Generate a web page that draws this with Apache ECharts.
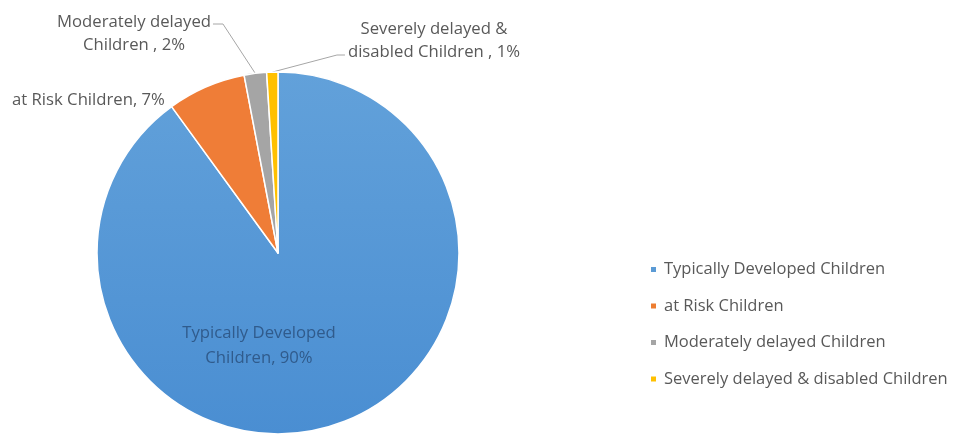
<!DOCTYPE html>
<html>
<head>
<meta charset="utf-8">
<script src="https://cdn.jsdelivr.net/npm/echarts@6/dist/echarts.min.js"></script>
<style>
  html, body { margin: 0; padding: 0; background: #ffffff; }
  #chart { width: 957px; height: 437px; }
</style>
</head>
<body>
<div id="chart"></div>
<script>
// Categories shown in the legend
const categories = [
  'Typically Developed Children',
  'at Risk Children',
  'Moderately delayed Children',
  'Severely delayed & disabled Children'
];
// Share of children in each group (%)
const shares = [90, 7, 2, 1];
// Slice label text (before the value)
const labelNames = [
  'Typically Developed\nChildren',
  'at Risk Children',
  'Moderately delayed\nChildren ',
  'Severely delayed &\ndisabled Children '
];

const colors = [
  new echarts.graphic.LinearGradient(0, 0, 0, 1, [
    { offset: 0, color: '#62a1da' },
    { offset: 1, color: '#4a8ed2' }
  ]),
  '#ef7d37',
  '#a5a5a5',
  '#ffc000'
];
const legendColors = ['#5b9bd5', '#ed7d31', '#a5a5a5', '#ffc000'];

const FONT = '"Open Sans", "Noto Sans", sans-serif';
const chart = echarts.init(document.getElementById('chart'));

const data = categories.map((name, i) => ({
  name: name,
  value: shares[i],
  itemStyle: { color: colors[i] },
  label: i === 0
    ? { position: 'inside', color: '#305b8c', lineHeight: 25 }
    : { position: 'outside', color: '#595959' },
  labelLine: { show: i >= 2 }
}));

// Where each slice label sits, and which side its leader line joins
const labelPlacement = [
  { x: 259, y: 345.5, align: 'center' },
  { x: 12, y: 100, align: 'left' },
  { x: 134, y: 33.5, align: 'center', side: 'right', lineY: 24 },
  { x: 434, y: 40.5, align: 'center', side: 'left', lineY: 55 }
];

chart.setOption({
  animation: false,
  legend: {
    orient: 'vertical',
    left: 644,
    top: 256,
    itemGap: 19.5,
    itemWidth: 7,
    itemHeight: 7,
    icon: 'rect',
    data: categories.map((n, i) => ({ name: n, itemStyle: { color: legendColors[i] } })),
    textStyle: { fontFamily: FONT, fontSize: 16.5, color: '#595959', padding: [0, 0, 0, 2] }
  },
  series: [{
    type: 'pie',
    center: [278, 253],
    radius: 181,
    startAngle: 90,
    clockwise: true,
    avoidLabelOverlap: false,
    itemStyle: { borderColor: '#ffffff', borderWidth: 1.5 },
    label: {
      fontFamily: FONT,
      fontSize: 16.7,
      lineHeight: 23,
      formatter: p => labelNames[p.dataIndex] + ', ' + p.value + '%'
    },
    labelLine: {
      lineStyle: { color: '#a6a6a6', width: 1 }
    },
    labelLayout: function (params) {
      const pl = labelPlacement[params.dataIndex];
      const out = { x: pl.x, y: pl.y, align: pl.align, verticalAlign: 'middle' };
      if (pl.side && params.labelLinePoints) {
        const start = params.labelLinePoints[0];
        const w = params.labelRect.width;
        let endX, elbowX;
        if (pl.side === 'right') {
          endX = pl.x + w / 2 + 2;
          elbowX = endX + 10;
        } else {
          endX = pl.x - w / 2 - 3;
          elbowX = endX - 8;
        }
        out.labelLinePoints = [
          [start[0], start[1]],
          [elbowX, pl.lineY],
          [endX, pl.lineY]
        ];
      }
      return out;
    },
    data: data
  }]
});
</script>
</body>
</html>
